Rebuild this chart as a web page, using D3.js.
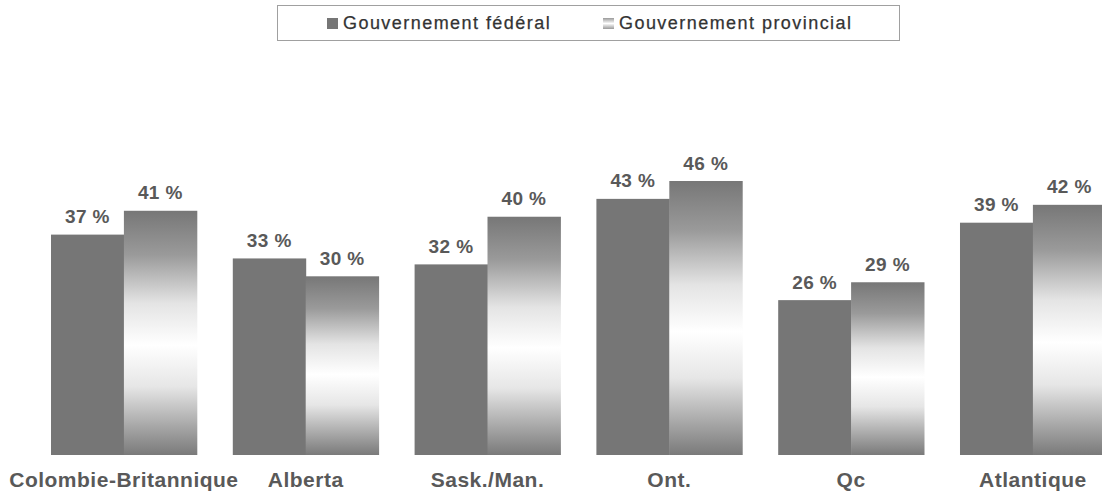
<!DOCTYPE html>
<html><head><meta charset="utf-8">
<script src="https://cdn.jsdelivr.net/npm/d3@7"></script>
<style>body{margin:0;background:#fff;overflow:hidden}svg{display:block}</style>
</head><body>
<script>
const categories = ["Colombie-Britannique","Alberta","Sask./Man.","Ont.","Qc","Atlantique"];
const federal = [37,33,32,43,26,39];
const provincial = [41,30,40,46,29,42];
const seriesNames = ["Gouvernement fédéral","Gouvernement provincial"];

const W=1102,H=493;
const svg=d3.select("body").append("svg").attr("width",W).attr("height",H);
const defs=svg.append("defs");
const g=defs.append("linearGradient").attr("id","grad").attr("x1",0).attr("y1",0).attr("x2",0).attr("y2",1);
[[0,"#777777"],[0.18,"#9a9a9a"],[0.38,"#e4e4e4"],[0.55,"#ffffff"],[0.72,"#e6e6e6"],[0.88,"#a8a8a8"],[1,"#7a7a7a"]]
 .forEach(([o,c])=>g.append("stop").attr("offset",o).attr("stop-color",c));
const lg=defs.append("linearGradient").attr("id","lgrad").attr("x1",0).attr("y1",0).attr("x2",0).attr("y2",1);
[[0,"#999"],[0.5,"#fff"],[1,"#999"]].forEach(([o,c])=>lg.append("stop").attr("offset",o).attr("stop-color",c));

const x=d3.scaleBand().domain(categories).range([51,1105.8]).paddingInner(0.198).paddingOuter(0);
const xs=d3.scaleBand().domain([0,1]).range([0,x.bandwidth()]);
const y=d3.scaleLinear().domain([0,46]).range([455,181]);

const font="Arial, 'Liberation Sans', sans-serif";
const data=categories.map((c,i)=>({c,vals:[federal[i],provincial[i]]}));
const grp=svg.append("g").selectAll("g").data(data).join("g").attr("transform",d=>`translate(${x(d.c)},0)`);
grp.selectAll("rect").data(d=>d.vals.map((v,k)=>({v,k}))).join("rect")
  .attr("x",d=>xs(d.k)).attr("width",xs.bandwidth()+0.5)
  .attr("y",d=>y(d.v)).attr("height",d=>y(0)-y(d.v))
  .attr("fill",d=>d.k===0?"#767676":"url(#grad)");
grp.selectAll("text").data(d=>d.vals.map((v,k)=>({v,k}))).join("text")
  .attr("x",d=>xs(d.k)+xs.bandwidth()/2).attr("y",d=>y(d.v)-11.5)
  .attr("text-anchor","middle").attr("font-family",font).attr("font-weight","bold")
  .attr("font-size",19).attr("letter-spacing",0.4).attr("fill","#595959").text(d=>d.v+" %");

svg.append("g").selectAll("text").data(categories).join("text")
  .attr("x",d=>x(d)+x.bandwidth()/2).attr("y",487).attr("text-anchor","middle")
  .attr("font-family",font).attr("font-weight","bold").attr("font-size",21).attr("letter-spacing",0.5).attr("fill","#595959")
  .text(d=>d);

// legend
svg.append("rect").attr("x",277.5).attr("y",5.5).attr("width",622).attr("height",35)
  .attr("fill","#fff").attr("stroke","#a0a0a0");
const leg=[{x:327,t:seriesNames[0],k:0},{x:603,t:seriesNames[1],k:1}];
leg.forEach(l=>{
  svg.append("rect").attr("x",l.x).attr("y",18).attr("width",11).attr("height",11)
    .attr("fill",l.k===0?"#767676":"url(#lgrad)");
  svg.append("text").attr("x",l.x+16).attr("y",29).attr("font-family",font)
    .attr("font-size",18).attr("fill","#333").attr("letter-spacing",1.45)
    .attr("stroke","#333").attr("stroke-width",0.25).text(l.t);
});
</script>
</body></html>
